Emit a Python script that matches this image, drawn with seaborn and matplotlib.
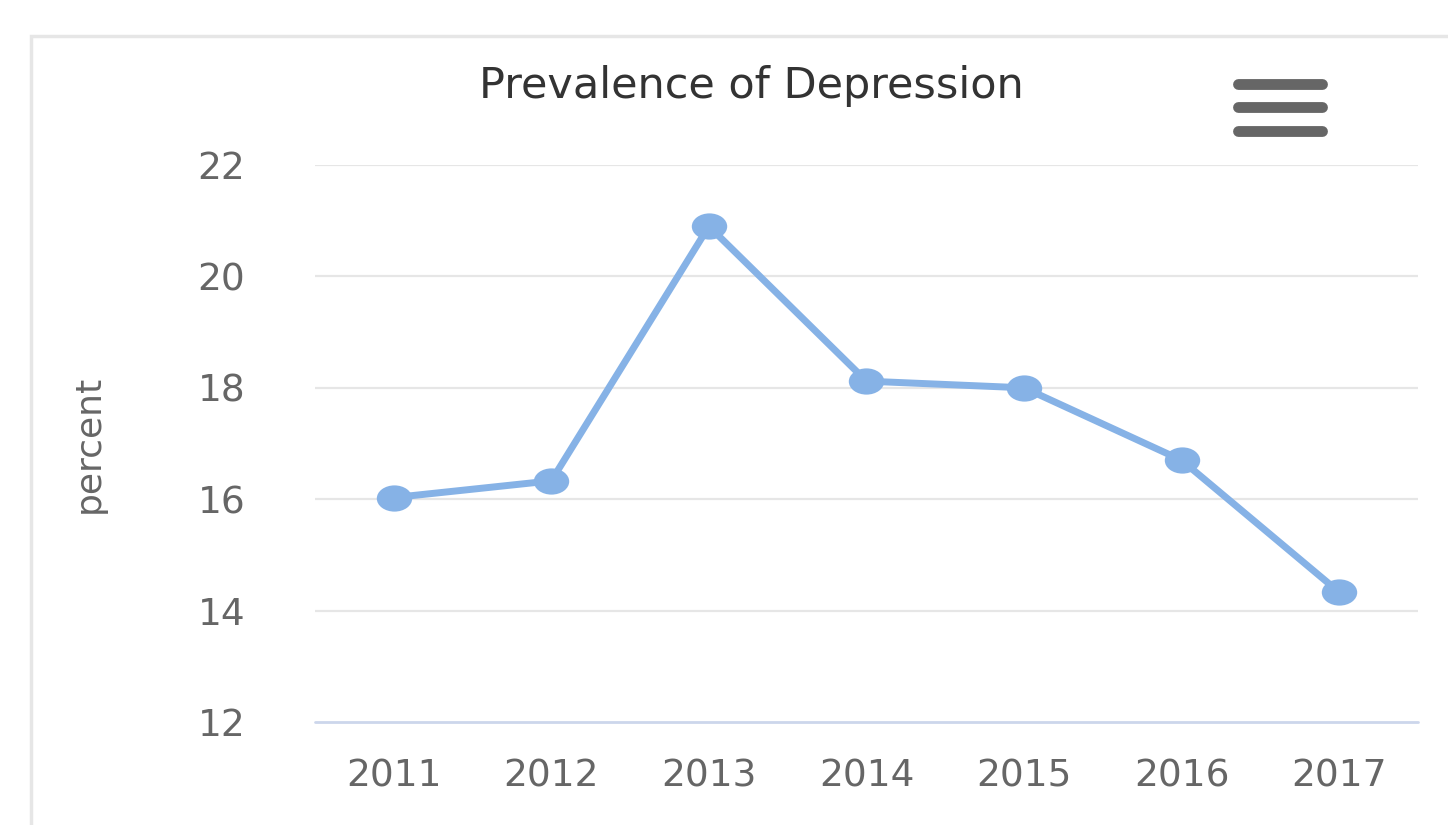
import matplotlib
matplotlib.use("Agg")
import matplotlib.pyplot as plt
import matplotlib.patches as mpatches
import matplotlib.lines as mlines
from matplotlib.path import Path
import pandas as pd
import seaborn as sns

# Chart data
years = ["2011", "2012", "2013", "2014", "2015", "2016", "2017"]
percent = [16.03, 16.33, 20.9, 18.12, 18.0, 16.7, 14.33]
y_ticks = [12, 14, 16, 18, 20, 22]

data = pd.DataFrame({"year": years, "percent": percent})

sns.set_style("white")
plt.rcParams["font.family"] = ["DejaVu Sans"]

fig = plt.figure(figsize=(14.48, 8.25), dpi=100)
ax = fig.add_axes([0.2175, 0.1248, 0.7618, 0.6752])

# slightly wide ellipse marker (the original is stretched horizontally)
circ = Path.unit_circle()
ellipse = Path(circ.vertices * [1.35, 1.0], circ.codes)

sns.lineplot(data=data, x="year", y="percent", ax=ax, color="#86b2e6",
             lw=5, marker=ellipse, markersize=25.5, markeredgewidth=0,
             markeredgecolor="#86b2e6", sort=False)

ax.set_xlim(-0.5, len(years) - 0.5)
ax.set_ylim(12, 22)
ax.set_yticks(y_ticks)
ax.set_yticklabels([str(t) for t in y_ticks])

# gridlines
for t in y_ticks[1:]:
    ax.axhline(t, color="#e6e6e6", lw=1.6, zorder=0)
ax.axhline(12, color="#ccd6eb", lw=2, zorder=0, clip_on=False)

for s in ax.spines.values():
    s.set_visible(False)

ax.tick_params(axis="y", length=0, pad=50, labelsize=27, labelcolor="#666666")
ax.tick_params(axis="x", length=0, pad=26, labelsize=27, labelcolor="#666666")
ax.set_xlabel("")
ax.set_ylabel("percent", fontsize=26, color="#666666")
ax.yaxis.set_label_coords(-0.19, 0.5)

fig.text(0.519, 1 - 98 / 825, "Prevalence of Depression", ha="center",
         va="baseline", fontsize=31, color="#333333")

# outer chart container border
fig.patches.append(mpatches.Rectangle((31 / 1448, -0.2), 1.2, 1.2 - 36 / 825,
                                      transform=fig.transFigure, fill=False,
                                      edgecolor="#e6e6e6", lw=2.5))

# menu (hamburger) icon
for yy in [84, 107, 131]:
    fig.lines.append(mlines.Line2D([1238 / 1448, 1322 / 1448],
                                   [1 - yy / 825, 1 - yy / 825],
                                   transform=fig.transFigure, color="#666666",
                                   lw=7.8, solid_capstyle="round"))

fig.savefig("out.png", dpi=100, facecolor="white")
